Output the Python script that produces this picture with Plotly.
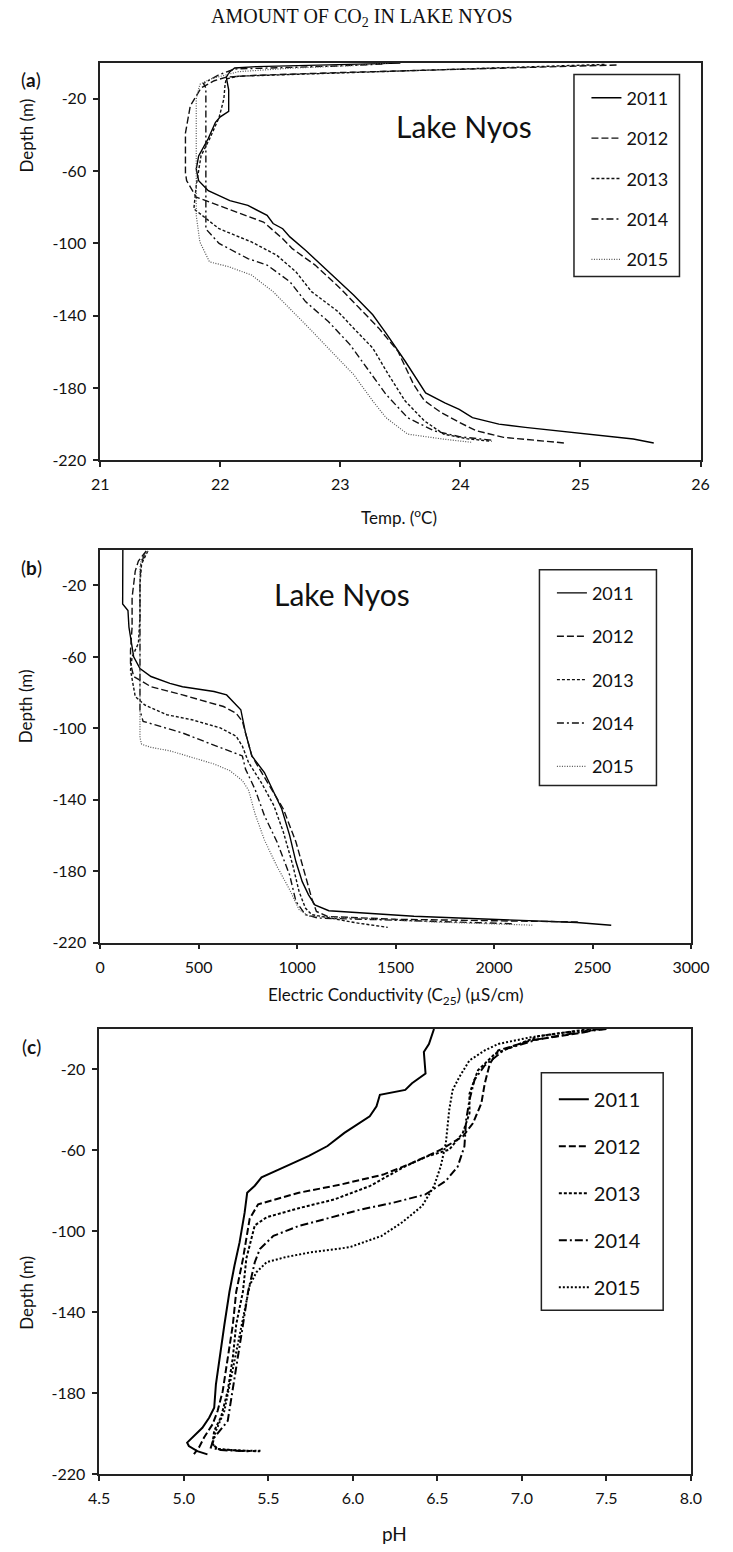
import plotly.graph_objects as go

W, H = 733, 1552
years = ["2011", "2012", "2013", "2014", "2015"]

# ---------------- Panel (a): temperature ----------------
temp_2011 = [23.5, 22.9, 22.3, 22.12, 22.08, 22.05, 22.07, 22.07, 22.0, 21.96, 21.9, 21.82, 21.8, 21.82, 21.9, 22.08, 22.23, 22.39, 22.44, 22.52, 22.58, 22.71, 22.9, 23.11, 23.27, 23.38, 23.54, 23.63, 23.71, 23.87, 23.99, 24.1, 24.32, 24.54, 24.92, 25.44, 25.61]
tdep_2011 = [-0.3, -1.2, -2.2, -3.0, -5, -8, -15, -27, -30, -33, -42, -51.6, -58.9, -65.3, -70.8, -76.3, -79, -84.5, -89, -91.9, -96.4, -103.8, -115.7, -128.5, -139.5, -149.6, -165.2, -174.5, -182.7, -188.2, -191.8, -196.4, -200, -201.8, -204.5, -208.2, -210.4]
temp_2012 = [25.3, 24.6, 23.8, 23.0, 22.3, 22.05, 21.95, 21.84, 21.75, 21.71, 21.71, 21.72, 21.8, 21.99, 22.18, 22.36, 22.52, 22.6, 22.79, 23.0, 23.16, 23.32, 23.48, 23.61, 23.7, 23.84, 23.99, 24.13, 24.36, 24.66, 24.88]
tdep_2012 = [-1.3, -2.5, -4, -5.5, -7, -8, -10, -14, -24, -39, -61, -65.3, -74.4, -79, -83.6, -88.2, -97.4, -102.9, -112, -124.9, -135.9, -146.9, -159.7, -178, -187, -193.6, -199, -203.6, -207.3, -209.2, -210.5]
temp_2013 = [25.2, 24.4, 23.6, 22.8, 22.15, 22.05, 22.04, 22.03, 21.99, 21.91, 21.84, 21.8, 21.78, 21.99, 22.26, 22.47, 22.63, 22.76, 22.98, 23.11, 23.27, 23.4, 23.54, 23.7, 23.86, 24.05, 24.26]
tdep_2013 = [-1.0, -2.8, -4.5, -6, -7.5, -9, -12, -20, -30.4, -42.3, -51.5, -68, -80.9, -91.9, -99.2, -106.5, -115.7, -126.7, -137.7, -146.9, -157.9, -172.5, -187.2, -198.2, -205.5, -208, -209.5]
temp_2014 = [23.35, 23.0, 22.5, 22.12, 21.98, 21.86, 21.88, 21.88, 21.88, 21.99, 22.23, 22.39, 22.58, 22.71, 22.9, 23.08, 23.22, 23.38, 23.56, 23.78, 24.0, 24.28]
tdep_2014 = [-0.8, -1.8, -2.8, -3.5, -7, -11.5, -14, -50, -92, -100, -108.4, -112, -121.2, -132.2, -143.2, -156, -168.9, -183.5, -196.4, -203.7, -207, -209]
temp_2015 = [23.4, 23.15, 22.6, 22.15, 21.92, 21.83, 21.8, 21.8, 21.8, 21.83, 21.91, 22.07, 22.26, 22.44, 22.58, 22.74, 22.95, 23.11, 23.27, 23.38, 23.56, 23.86, 24.1]
tdep_2015 = [-0.3, -1.5, -3, -5, -9, -12, -20, -60, -84.5, -99.2, -110.2, -112.9, -117.5, -126.7, -135.9, -146.9, -161.5, -172.5, -187.2, -196.4, -205.5, -208.3, -210.1]

# ---------------- Panel (b): electric conductivity ----------------
ec_2011 = [115, 114, 141, 146, 170, 202, 258, 354, 418, 578, 642, 682, 714, 738, 770, 834, 882, 922, 962, 994, 1026, 1058, 1090, 1161, 1593, 2048, 2420, 2595]
edep_2011 = [0, -30.4, -34, -43.3, -60, -66.5, -71, -74.8, -76.7, -79.4, -81.3, -85.9, -89.6, -102.6, -115.5, -124.8, -135.9, -145.2, -160, -174.8, -185.9, -193.3, -198.9, -202.2, -205.3, -207.2, -208.8, -210.3]
ec_2012 = [234, 194, 178, 162, 162, 154, 154, 170, 258, 418, 626, 690, 722, 770, 850, 930, 994, 1042, 1074, 1098, 1154, 1500, 2000, 2430]
edep_2012 = [-0.7, -6.3, -11.9, -26.7, -43.3, -56.3, -63.7, -71, -76.7, -81.3, -87.8, -91.5, -96.1, -115.5, -130.4, -145.2, -163.7, -182.2, -195.2, -202.6, -205.4, -207, -208, -208.5]
ec_2013 = [242, 210, 202, 202, 194, 162, 154, 178, 226, 338, 466, 610, 690, 722, 754, 818, 882, 930, 978, 1010, 1042, 1074, 1154, 1300, 1460]
edep_2013 = [-0.7, -8, -19, -37.6, -52.4, -60, -67.4, -82.2, -86.9, -92.4, -95.2, -99.8, -104.4, -110, -119.3, -130.4, -143.3, -158.1, -176.7, -191.5, -200.7, -204.4, -206, -209, -211.5]
ec_2014 = [226, 206, 202, 200, 202, 218, 306, 418, 546, 642, 722, 738, 786, 834, 898, 962, 994, 1042, 1106, 1500, 2100]
edep_2014 = [-2.6, -8, -20, -60, -90, -96.1, -98.9, -102.6, -108.1, -111.9, -115.5, -122.9, -134.1, -148.9, -163.7, -182.2, -197, -204.4, -206.3, -207.5, -209.5]
ec_2015 = [242, 210, 202, 202, 202, 210, 258, 354, 466, 578, 658, 722, 754, 786, 834, 898, 962, 1010, 1058, 1218, 1700, 2200]
edep_2015 = [-0.7, -5, -10, -60, -105.2, -108.9, -110.7, -112.6, -116.3, -120, -123.7, -129.3, -134.8, -147.8, -162.6, -177.4, -190.4, -201.5, -205.2, -206.1, -208.5, -210.3]

# ---------------- Panel (c): pH ----------------
ph_2011 = [6.48, 6.45, 6.42, 6.43, 6.35, 6.31, 6.16, 6.14, 6.10, 6.01, 5.95, 5.85, 5.74, 5.61, 5.46, 5.42, 5.375, 5.36, 5.33, 5.30, 5.27, 5.24, 5.21, 5.19, 5.18, 5.15, 5.11, 5.05, 5.02, 5.03, 5.08, 5.14]
pdep_2011 = [0, -7.4, -11.4, -22, -26.8, -30.1, -32.5, -38.2, -43.1, -48, -51.3, -57.8, -62.7, -67.6, -73.3, -77.4, -80.9, -90.7, -105.4, -116.8, -129.9, -146.2, -162.6, -175.7, -187.1, -192, -197, -201.8, -204.3, -206, -208.5, -210.1]
ph_2012 = [7.45, 7.37, 7.05, 6.86, 6.81, 6.78, 6.76, 6.71, 6.65, 6.52, 6.35, 6.18, 5.93, 5.68, 5.44, 5.39, 5.35, 5.31, 5.29, 5.26, 5.23, 5.2, 5.17, 5.12, 5.09, 5.06]
pdep_2012 = [0, -1.6, -5.7, -10.6, -17.2, -27, -36.8, -46.6, -53.1, -59.6, -66.2, -71.9, -76.8, -80.9, -86.6, -93.6, -113.6, -129.9, -146.2, -162.6, -179, -188.7, -195.3, -201.8, -206.7, -210]
ph_2013 = [7.4, 7.1, 6.84, 6.74, 6.69, 6.69, 6.65, 6.57, 6.44, 6.31, 6.10, 5.89, 5.68, 5.49, 5.42, 5.40, 5.37, 5.35, 5.31, 5.29, 5.26, 5.22, 5.18, 5.17, 5.2, 5.34, 5.45]
pdep_2013 = [0, -3.5, -12.3, -20.4, -31.9, -41.7, -51.4, -59.6, -62.9, -67.8, -77.6, -84.2, -88.5, -93, -97, -103.6, -113.4, -129.7, -146, -162.4, -178.8, -191.8, -198.4, -204.9, -207.5, -208.3, -208.6]
ph_2014 = [7.5, 7.35, 7.1, 6.9, 6.78, 6.72, 6.69, 6.67, 6.66, 6.62, 6.55, 6.43, 6.24, 6.05, 5.83, 5.68, 5.53, 5.45, 5.42, 5.38, 5.35, 5.32, 5.29, 5.26, 5.18, 5.16, 5.22, 5.39]
pdep_2014 = [0, -1.5, -5, -10, -18, -25, -35, -45, -58, -68, -75, -81.7, -85.8, -89.1, -94, -97.3, -102.2, -108.7, -115.2, -129.9, -146.2, -162.6, -178.9, -193.6, -201.8, -206.7, -208, -208.6]
ph_2015 = [7.48, 7.27, 7.05, 6.86, 6.78, 6.69, 6.63, 6.59, 6.57, 6.55, 6.52, 6.48, 6.41, 6.29, 6.17, 5.98, 5.75, 5.6, 5.49, 5.43, 5.39, 5.35, 5.31, 5.27, 5.24, 5.19, 5.17, 5.2, 5.35, 5.46]
pdep_2015 = [0, -1.6, -4.1, -7.4, -10.6, -15.5, -23.7, -30.2, -40, -56.4, -67.8, -77.6, -87.4, -95.6, -102.2, -107.8, -110.3, -112.7, -115.2, -120.1, -126.6, -143, -159.3, -175.7, -188.7, -198.5, -205, -207.5, -208.3, -208.3]

depth_ticks = [-20, -60, -100, -140, -180, -220]

# ---------------- styles ----------------
dashes_ab = ["solid", "7px,3px", "3px,2px", "7px,3px,2px,3px", "1px,1.5px"]
dashes_c = ["solid", "7px,3px", "3px,2px", "8px,3px,2px,3px", "2px,2px"]
colors_ab = ["#000000", "#111111", "#111111", "#111111", "#555555"]

FONT = "Lato"
fig = go.Figure()

panels = [
    ("x", "y", "legend", [(temp_2011, tdep_2011), (temp_2012, tdep_2012), (temp_2013, tdep_2013), (temp_2014, tdep_2014), (temp_2015, tdep_2015)]),
    ("x2", "y2", "legend2", [(ec_2011, edep_2011), (ec_2012, edep_2012), (ec_2013, edep_2013), (ec_2014, edep_2014), (ec_2015, edep_2015)]),
    ("x3", "y3", "legend3", [(ph_2011, pdep_2011), (ph_2012, pdep_2012), (ph_2013, pdep_2013), (ph_2014, pdep_2014), (ph_2015, pdep_2015)]),
]
for pi, (xa, ya, lg, series) in enumerate(panels):
    for i, (xs, ds) in enumerate(series):
        if pi < 2:
            w = 1.4 if i < 4 else 1.2
            c = colors_ab[i]
            d = dashes_ab[i]
        else:
            w = 2.0
            c = "#000000"
            d = dashes_c[i]
        fig.add_trace(go.Scatter(
            x=xs, y=ds, mode="lines", name=years[i],
            line=dict(color=c, width=w, dash=d),
            xaxis=xa, yaxis=ya, legend=lg, legendgroup=f"{lg}{years[i]}",
            showlegend=True,
        ))

def px_x(p):
    return p / W

def px_y(p):
    return 1 - p / H

axis_common = dict(showline=True, linecolor="#222222", linewidth=1.6, mirror=True,
                   ticks="outside", ticklen=5, tickwidth=1.5, tickcolor="#222222",
                   showgrid=False, zeroline=False,
                   tickfont=dict(family=FONT, size=16, color="#111111"))

# pixel boxes
boxes = {
    "a": (93, 719, 63, 463),
    "b": (93, 709, 553, 948),
    "c": (92, 709, 1035, 1483),
}

layout = dict(
    width=W, height=H, autosize=False,
    margin=dict(l=0, r=0, t=0, b=0),
    paper_bgcolor="white", plot_bgcolor="white",
    font=dict(family=FONT, color="#111111"),
)

xranges = [[21, 26], [0, 3000], [4.5, 8.0]]
xdticks = [1, 500, 0.5]
xfmts = ["d", "d", ".1f"]
for k, key in enumerate(["a", "b", "c"]):
    x0, x1, y0, y1 = boxes[key]
    sx = "xaxis" if k == 0 else f"xaxis{k+1}"
    sy = "yaxis" if k == 0 else f"yaxis{k+1}"
    anchor_x = "y" if k == 0 else f"y{k+1}"
    anchor_y = "x" if k == 0 else f"x{k+1}"
    layout[sx] = dict(axis_common, domain=[px_x(x0), px_x(x1)], range=xranges[k],
                      dtick=xdticks[k], tick0=xranges[k][0], tickformat=xfmts[k],
                      anchor=anchor_x, ticklabelstandoff=4)
    layout[sy] = dict(axis_common, domain=[px_y(y1), px_y(y0)], range=[-220, 0],
                      tickvals=depth_ticks, ticktext=[str(v) for v in depth_ticks],
                      anchor=anchor_y, ticklabelstandoff=4)

# legends (boxes drawn as shapes)
leg_specs = {
    "legend": dict(x=600, y=80, size=18, gap=14, box=(587, 697, 75, 278)),
    "legend2": dict(x=564, y=578, size=18, gap=17, box=(551, 673, 573, 790)),
    "legend3": dict(x=566, y=1086, size=20, gap=18, box=(553, 680, 1079, 1318)),
}
shapes = []
for name, s in leg_specs.items():
    layout[name] = dict(x=px_x(s["x"]), y=px_y(s["y"]), xanchor="left", yanchor="top",
                        bgcolor="rgba(0,0,0,0)", borderwidth=0,
                        font=dict(family=FONT, size=s["size"], color="#111111"),
                        traceorder="grouped", tracegroupgap=s["gap"], itemwidth=30)
    bx0, bx1, by0, by1 = s["box"]
    shapes.append(dict(type="rect", xref="paper", yref="paper",
                       x0=px_x(bx0), x1=px_x(bx1), y0=px_y(by1), y1=px_y(by0),
                       line=dict(color="#222222", width=1.5)))
layout["shapes"] = shapes

def ann(text, x, y, size, family=FONT, angle=0):
    return dict(text=text, x=px_x(x), y=px_y(y), xref="paper", yref="paper",
                showarrow=False, xanchor="center", yanchor="middle",
                textangle=angle, font=dict(family=family, size=size, color="#111111"))

layout["annotations"] = [
    ann("AMOUNT OF CO<sub>2</sub> IN LAKE NYOS", 366, 18, 20, family="Liberation Serif"),
    ann("(<b>a</b>)", 21, 80, 19),
    ann("(<b>b</b>)", 21, 571, 19),
    ann("(<b>c</b>)", 21, 1053, 19),
    ann("Lake Nyos", 472, 127, 30),
    ann("Lake Nyos", 345, 597, 30),
    ann("Depth (m)", 16, 136, 17, angle=-90),
    ann("Depth (m)", 16, 710, 17, angle=-90),
    ann("Depth (m)", 16, 1300, 17, angle=-90),
    ann("Temp. (<sup>o</sup>C)", 405, 520, 17),
    ann("Electric Conductivity (C<sub>25</sub>) (µS/cm)", 401, 1002, 17),
    ann("pH", 400, 1542, 19),
]

fig.update_layout(**layout)
fig.write_html("out.html")
